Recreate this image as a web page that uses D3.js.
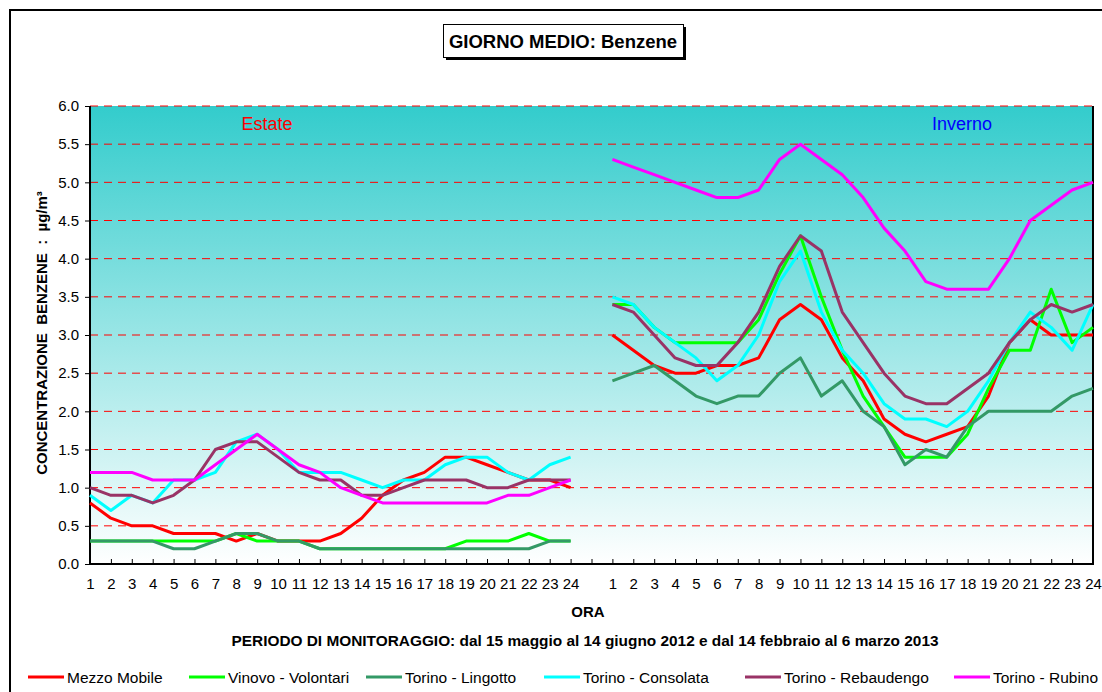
<!DOCTYPE html>
<html><head><meta charset="utf-8">
<script src="https://cdn.jsdelivr.net/npm/d3@7"></script>
<style>body{margin:0;background:#fff}svg{display:block;font-family:Arial,"Liberation Sans",sans-serif}</style>
</head><body><svg id="c" width="1102" height="692"></svg>
<script>
const hours = d3.range(1,25).map(String);
const categories = [...hours, "", ...hours];
const yTicks = [0,0.5,1,1.5,2,2.5,3,3.5,4,4.5,5,5.5,6];
const seriesNames = ["Mezzo Mobile","Vinovo - Volontari","Torino - Lingotto","Torino - Consolata","Torino - Rebaudengo","Torino - Rubino"];
const seriesColors = ["#FF0000","#00FF00","#339966","#00FFFF","#993366","#FF00FF"];
// Estate (summer) hourly means
const mezzoEstate = [0.8,0.6,0.5,0.5,0.4,0.4,0.4,0.3,0.4,0.3,0.3,0.3,0.4,0.6,0.9,1.1,1.2,1.4,1.4,1.3,1.2,1.1,1.1,1.0];
const vinovoEstate = [0.3,0.3,0.3,0.3,0.3,0.3,0.3,0.4,0.3,0.3,0.3,0.2,0.2,0.2,0.2,0.2,0.2,0.2,0.3,0.3,0.3,0.4,0.3,0.3];
const lingottoEstate = [0.3,0.3,0.3,0.3,0.2,0.2,0.3,0.4,0.4,0.3,0.3,0.2,0.2,0.2,0.2,0.2,0.2,0.2,0.2,0.2,0.2,0.2,0.3,0.3];
const consolataEstate = [0.9,0.7,0.9,0.8,1.1,1.1,1.2,1.6,1.7,1.5,1.2,1.2,1.2,1.1,1.0,1.1,1.1,1.3,1.4,1.4,1.2,1.1,1.3,1.4];
const rebaudengoEstate = [1.0,0.9,0.9,0.8,0.9,1.1,1.5,1.6,1.6,1.4,1.2,1.1,1.1,0.9,0.9,1.0,1.1,1.1,1.1,1.0,1.0,1.1,1.1,1.1];
const rubinoEstate = [1.2,1.2,1.2,1.1,1.1,1.1,1.3,1.5,1.7,1.5,1.3,1.2,1.0,0.9,0.8,0.8,0.8,0.8,0.8,0.8,0.9,0.9,1.0,1.1];
// Inverno (winter) hourly means
const mezzoInverno = [3.0,2.8,2.6,2.5,2.5,2.6,2.6,2.7,3.2,3.4,3.2,2.7,2.4,1.9,1.7,1.6,1.7,1.8,2.2,2.9,3.2,3.0,3.0,3.0];
const vinovoInverno = [3.4,3.4,3.1,2.9,2.9,2.9,2.9,3.2,3.8,4.3,3.5,2.8,2.2,1.8,1.4,1.4,1.4,1.7,2.3,2.8,2.8,3.6,2.9,3.1];
const lingottoInverno = [2.4,2.5,2.6,2.4,2.2,2.1,2.2,2.2,2.5,2.7,2.2,2.4,2.0,1.8,1.3,1.5,1.4,1.8,2.0,2.0,2.0,2.0,2.2,2.3];
const consolataInverno = [3.5,3.4,3.1,2.9,2.7,2.4,2.6,3.0,3.7,4.1,3.3,2.8,2.5,2.1,1.9,1.9,1.8,2.0,2.4,2.9,3.3,3.1,2.8,3.4];
const rebaudengoInverno = [3.4,3.3,3.0,2.7,2.6,2.6,2.9,3.3,3.9,4.3,4.1,3.3,2.9,2.5,2.2,2.1,2.1,2.3,2.5,2.9,3.2,3.4,3.3,3.4];
const rubinoInverno = [5.3,5.2,5.1,5.0,4.9,4.8,4.8,4.9,5.3,5.5,5.3,5.1,4.8,4.4,4.1,3.7,3.6,3.6,3.6,4.0,4.5,4.7,4.9,5.0];

const estate = [mezzoEstate,vinovoEstate,lingottoEstate,consolataEstate,rebaudengoEstate,rubinoEstate];
const inverno = [mezzoInverno,vinovoInverno,lingottoInverno,consolataInverno,rebaudengoInverno,rubinoInverno];

const svg = d3.select("#c");
const FF = "Arial, 'Liberation Sans', sans-serif";
const L=90, R=1093, T=106, B=564;
const x = d3.scalePoint().domain(d3.range(categories.length)).range([L,R]);
const y = d3.scaleLinear().domain([0,6]).range([B,T]);

// outer frame
svg.append("rect").attr("x",10).attr("y",10).attr("width",1100).attr("height",700)
  .attr("fill","none").attr("stroke","#000").attr("stroke-width",2);

// title box
svg.append("rect").attr("x",446).attr("y",27).attr("width",240).attr("height",33).attr("fill","#000");
svg.append("rect").attr("x",443.5).attr("y",24.5).attr("width",240).attr("height",33).attr("fill","#fff").attr("stroke","#000").attr("stroke-width",1);
svg.append("text").attr("x",563).attr("y",48).attr("text-anchor","middle").attr("font-size",18.5).attr("font-weight","bold").text("GIORNO MEDIO: Benzene");

// plot background gradient
const defs = svg.append("defs");
const g = defs.append("linearGradient").attr("id","bg").attr("x1",0).attr("y1",0).attr("x2",0).attr("y2",1);
g.append("stop").attr("offset","0%").attr("stop-color","#33CCCC");
g.append("stop").attr("offset","100%").attr("stop-color","#FFFFFF");
svg.append("rect").attr("x",L).attr("y",T).attr("width",R-L).attr("height",B-T).attr("fill","url(#bg)");

// gridlines
svg.append("g").selectAll("line").data(yTicks.filter(d=>d>0)).join("line")
  .attr("x1",L).attr("x2",R).attr("y1",d=>y(d)).attr("y2",d=>y(d))
  .attr("stroke","#FF0000").attr("stroke-width",1).attr("stroke-dasharray","8,6");

// y axis
const yAxis = d3.axisLeft(y).tickValues(yTicks).tickFormat(d3.format(".1f")).tickSize(5).tickPadding(6);
const ya = svg.append("g").attr("transform",`translate(${L},0)`).call(yAxis);
ya.select(".domain").remove();
ya.selectAll("text").attr("font-size",15).attr("font-family",FF).attr("fill","#000");
svg.append("line").attr("x1",L).attr("x2",L).attr("y1",T).attr("y2",B).attr("stroke","#000").attr("stroke-width",2);

// x axis
const xAxis = d3.axisBottom(x).tickFormat(i=>categories[i]).tickSize(-5).tickPadding(14);
const xa = svg.append("g").attr("transform",`translate(0,${B})`).call(xAxis);
xa.select(".domain").remove();
xa.selectAll("text").attr("font-size",15).attr("font-family",FF).attr("fill","#000");
svg.append("line").attr("x1",L-1).attr("x2",R+1).attr("y1",B).attr("y2",B).attr("stroke","#000").attr("stroke-width",2);
svg.append("line").attr("x1",R).attr("x2",R).attr("y1",T).attr("y2",B).attr("stroke","#000").attr("stroke-width",2);

// lines
const line = d3.line().x(d=>x(d.i)).y(d=>y(d.v));
const lg = svg.append("g");
seriesNames.forEach((n,k)=>{
  const s = estate[k].map((v,i)=>({i, v}));
  const w = inverno[k].map((v,i)=>({i:i+25, v}));
  [s,w].forEach(seg=>{
    lg.append("path").datum(seg).attr("d",line).attr("fill","none")
      .attr("stroke",seriesColors[k]).attr("stroke-width",3).attr("stroke-linejoin","round");
  });
});
// seasonal labels
svg.append("text").attr("x",267).attr("y",130).attr("text-anchor","middle").attr("font-size",18).attr("fill","#FF0000").text("Estate");
svg.append("text").attr("x",962).attr("y",130).attr("text-anchor","middle").attr("font-size",18).attr("fill","#0000FF").text("Inverno");

// axis titles
svg.append("text").attr("transform","translate(47,333) rotate(-90)").attr("text-anchor","middle").attr("font-size",15).attr("font-weight","bold")
  .attr("xml:space","preserve").text("CONCENTRAZIONE  BENZENE  :  µg/m³");
svg.append("text").attr("x",588).attr("y",617).attr("text-anchor","middle").attr("font-size",15).attr("font-weight","bold").text("ORA");
svg.append("text").attr("x",585).attr("y",646).attr("text-anchor","middle").attr("font-size",15.4).attr("font-weight","bold")
  .text("PERIODO DI MONITORAGGIO: dal 15 maggio al 14 giugno 2012 e dal 14 febbraio al 6 marzo 2013");

// legend
const legX = [28,189,366,544,745,954];
const leg = svg.append("g").selectAll("g").data(seriesNames).join("g").attr("transform",(d,i)=>`translate(${legX[i]},677)`);
leg.append("line").attr("x1",0).attr("x2",36).attr("y1",0).attr("y2",0).attr("stroke",(d,i)=>seriesColors[i]).attr("stroke-width",3);
leg.append("text").attr("x",39).attr("y",5.5).attr("font-size",15.5).text(d=>d);
</script></body></html>
